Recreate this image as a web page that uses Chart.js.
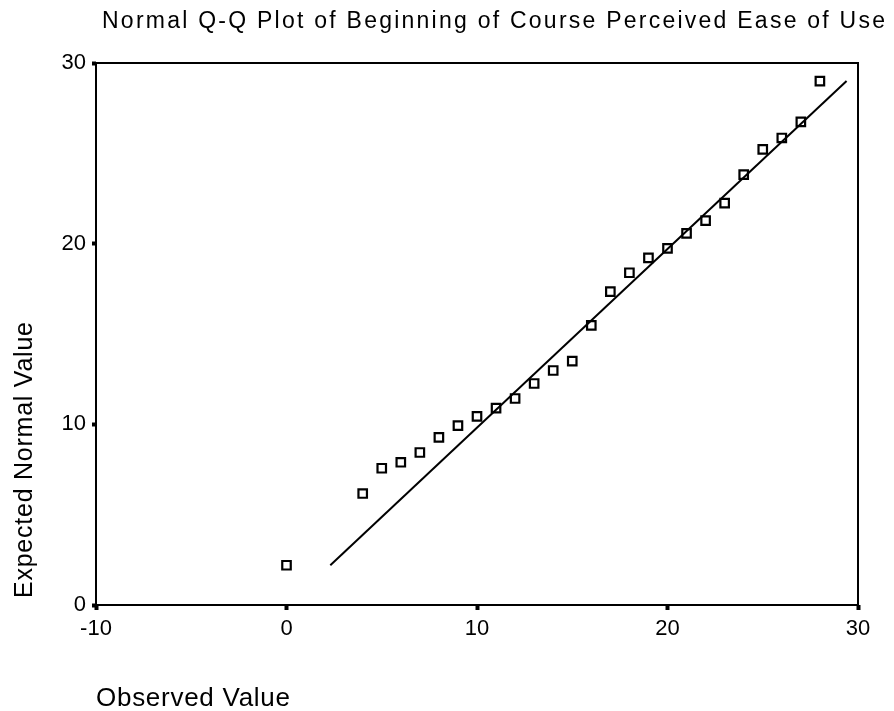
<!DOCTYPE html>
<html>
<head>
<meta charset="utf-8">
<script src="https://cdn.jsdelivr.net/npm/chart.js@4/dist/chart.umd.min.js"></script>
<style>
  html, body { margin: 0; padding: 0; background: #fff; }
  canvas { display: block; }
</style>
</head>
<body>
<canvas id="qqChart" width="894" height="711"></canvas>
<script>
// valores
const observed = [0, 4, 5, 6, 7, 8, 9, 10, 11, 12, 13, 14, 15, 16, 17, 18, 19, 20, 21, 22, 23, 24, 25, 26, 27, 28];
const expected = [2.2, 6.17, 7.57, 7.9, 8.44, 9.28, 9.93, 10.44, 10.9, 11.43, 12.26, 12.98, 13.5, 15.48, 17.35, 18.39, 19.21, 19.74, 20.57, 21.28, 22.24, 23.82, 25.22, 25.85, 26.74, 29.0];
const refLineX = [2.3, 29.4];
const refLineY = [2.2, 29.0];
const xTicks = [-10, 0, 10, 20, 30];
const yTicks = [0, 10, 20, 30];

const chartTitle = 'Normal Q-Q Plot of Beginning of Course Perceived Ease of Use';
const xTitle = 'Observed Value';
const yTitle = 'Expected Normal Value';

const fontFamily = "'Liberation Sans', Arial, Helvetica, sans-serif";

// texto esticado ate a largura do original
function drawFitted(ctx, text, x, y, width, size, rotate) {
    ctx.save();
    ctx.font = size + 'px ' + fontFamily;
    ctx.fillStyle = '#000';
    ctx.textBaseline = 'alphabetic';
    ctx.textAlign = 'left';
    const natural = ctx.measureText(text).width;
    const spacing = (width - natural) / (text.length - 1);
    ctx.translate(x, y);
    if (rotate) ctx.rotate(-Math.PI / 2);
    if ('letterSpacing' in ctx) {
        ctx.letterSpacing = spacing + 'px';
        ctx.fillText(text, 0, 0);
    } else {
        ctx.scale(width / natural, 1);
        ctx.fillText(text, 0, 0);
    }
    ctx.restore();
}

const framePlugin = {
    id: 'frame',
    beforeDatasetsDraw(chart) {
        const { ctx, chartArea } = chart;
        ctx.save();
        ctx.strokeStyle = '#000';
        ctx.lineWidth = 2;
        ctx.strokeRect(chartArea.left, chartArea.top, chartArea.right - chartArea.left, chartArea.bottom - chartArea.top);
        ctx.restore();
    },
    afterDraw(chart) {
        const ctx = chart.ctx;
        drawFitted(ctx, chartTitle, 102, 28, 783, 23);
        drawFitted(ctx, xTitle, 96, 706, 194, 26);
        drawFitted(ctx, yTitle, 32, 598, 276, 25, true);
    }
};

const ctx = document.getElementById('qqChart').getContext('2d');

new Chart(ctx, {
    type: 'scatter',
    data: {
        datasets: [
            {
                label: 'Reference',
                data: refLineX.map((x, i) => ({ x: x, y: refLineY[i] })),
                showLine: true,
                borderColor: '#000',
                borderWidth: 2,
                pointRadius: 0,
                fill: false,
            },
            {
                label: 'Observed',
                data: observed.map((x, i) => ({ x: x, y: expected[i] })),
                pointStyle: 'rect',
                pointRadius: 6,
                pointBorderWidth: 2.2,
                borderColor: '#000',
                backgroundColor: 'rgba(0,0,0,0)',
            },
        ],
    },
    options: {
        responsive: false,
        animation: false,
        devicePixelRatio: 1,
        layout: {
            padding: { top: 63, right: 36, left: 0, bottom: 0 },
        },
        plugins: {
            legend: { display: false },
            title: { display: false },
            tooltip: { enabled: false },
        },
        scales: {
            x: {
                type: 'linear',
                min: -10,
                max: 30,
                afterFit: (scale) => { scale.height = 106; },
                afterBuildTicks: (scale) => { scale.ticks = xTicks.map(v => ({ value: v })); },
                border: { display: false },
                grid: {
                    drawOnChartArea: false,
                    drawTicks: true,
                    tickLength: 5,
                    tickWidth: 4,
                    tickColor: '#000',
                },
                ticks: {
                    color: '#000',
                    padding: 6,
                    maxRotation: 0,
                    font: { family: fontFamily, size: 22 },
                },
            },
            y: {
                type: 'linear',
                min: 0,
                max: 30,
                afterFit: (scale) => { scale.width = 96; },
                afterBuildTicks: (scale) => { scale.ticks = yTicks.map(v => ({ value: v })); },
                border: { display: false },
                grid: {
                    drawOnChartArea: false,
                    drawTicks: true,
                    tickLength: 4,
                    tickWidth: 4,
                    tickColor: '#000',
                },
                ticks: {
                    color: '#000',
                    padding: 6,
                    font: { family: fontFamily, size: 22 },
                },
            },
        },
    },
    plugins: [framePlugin],
});
</script>
</body>
</html>
